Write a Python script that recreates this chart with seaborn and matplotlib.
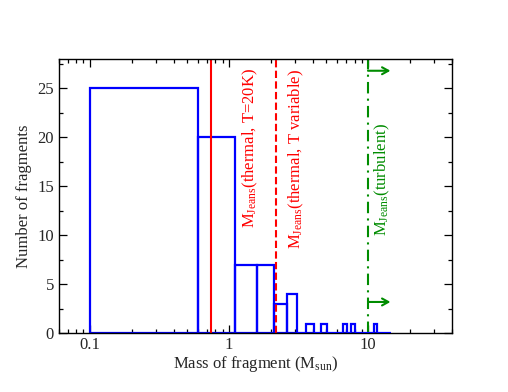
import numpy as np
import pandas as pd
import matplotlib
matplotlib.use("Agg")
import matplotlib.pyplot as plt
from matplotlib.ticker import MultipleLocator, LogLocator, FixedFormatter, FixedLocator
import seaborn as sns

# ---- data ----
bin_edges = [0.1, 0.6, 1.1, 1.6, 2.1, 2.6, 3.1, 3.6, 4.1, 4.6, 5.1, 5.6, 6.1, 6.6,
             7.1, 7.6, 8.1, 8.6, 9.1, 9.6, 10.1, 10.6, 11.1, 11.6, 12.1, 12.6,
             13.1, 13.6, 14.1, 14.6]
counts = [25, 20, 7, 7, 3, 4, 0, 1, 0, 1, 0, 0, 0, 1, 0, 1, 0, 0, 0, 0, 0, 0,
          1, 0, 0, 0, 0, 0, 0]
mjeans_thermal_20K = 0.74
mjeans_thermal_Tvar = 2.18
mjeans_turbulent = 10.0
arrow_end = 14.5
arrow_levels = [26.8, 3.2]

labels = {
    "t20": "M$_{\\mathrm{Jeans}}$(thermal, T=20K)",
    "tvar": "M$_{\\mathrm{Jeans}}$(thermal, T variable)",
    "turb": "M$_{\\mathrm{Jeans}}$(turbulent)",
}
xlabel = "Mass of fragment (M$_{\\mathrm{sun}}$)"
ylabel = "Number of fragments"

centers = [(a + b) / 2 for a, b in zip(bin_edges[:-1], bin_edges[1:])]
df = pd.DataFrame({"mass": centers, "n": counts})

# ---- style ----
sns.set_style("ticks")
plt.rcParams["font.family"] = ["Liberation Serif", "DejaVu Serif"]
plt.rcParams["mathtext.fontset"] = "custom"
plt.rcParams["mathtext.rm"] = "Liberation Serif"
plt.rcParams["mathtext.it"] = "Liberation Serif:italic"
plt.rcParams["mathtext.bf"] = "Liberation Serif:bold"

BLUE = "#0000ff"
RED = "#ff0000"
GREEN = "#008c00"

fig = plt.figure(figsize=(5.08, 3.92), dpi=100)
ax = fig.add_axes([0.1161, 0.1497, 0.8892 - 0.1161, 0.8495 - 0.1497])

sns.histplot(data=df, x="mass", weights="n", bins=bin_edges, fill=False,
             element="bars", color=BLUE, linewidth=1.6, ax=ax)
for p in ax.patches:
    if p.get_height() == 0:
        p.set_zorder(3)

ax.set_xscale("log")
ax.set_xlim(0.06, 40)
ax.set_ylim(0, 28)

# Jeans masses
ax.axvline(mjeans_thermal_20K, color=RED, lw=1.5)
ax.axvline(mjeans_thermal_Tvar, color=RED, lw=1.5, linestyle=(0, (3.5, 1.6)))
ax.axvline(mjeans_turbulent, color=GREEN, lw=1.5, linestyle=(0, (5.5, 2.5, 1, 2.5)))
for yl in arrow_levels:
    ax.annotate("", xy=(arrow_end, yl), xytext=(mjeans_turbulent, yl),
                arrowprops=dict(arrowstyle="->,head_length=0.45,head_width=0.25",
                                color=GREEN, lw=1.5, shrinkA=0, shrinkB=0))

ax.text(1.42, 18.9, labels["t20"], rotation=90, color=RED, fontsize=12,
        ha="center", va="center")
ax.text(3.06, 17.8, labels["tvar"], rotation=90, color=RED, fontsize=12,
        ha="center", va="center")
ax.text(12.6, 15.65, labels["turb"], rotation=90, color=GREEN, fontsize=12,
        ha="center", va="center")

# axes & ticks
ax.set_xlabel(xlabel, fontsize=12, labelpad=1)
ax.set_ylabel(ylabel, fontsize=12, labelpad=4)
ax.xaxis.set_major_locator(FixedLocator([0.1, 1, 10]))
ax.xaxis.set_major_formatter(FixedFormatter(["0.1", "1", "10"]))
ax.xaxis.set_minor_locator(LogLocator(base=10, subs=np.arange(2, 10)))
ax.yaxis.set_major_locator(MultipleLocator(5))
ax.yaxis.set_minor_locator(MultipleLocator(2.5))
ax.tick_params(which="both", direction="in", top=True, right=True,
               labelsize=12, color="black", width=0.9)
ax.tick_params(which="major", length=5.5)
ax.tick_params(axis="x", which="major", pad=2.5)
ax.tick_params(axis="y", which="major", pad=3.5)
ax.tick_params(which="minor", length=3)
for s in ax.spines.values():
    s.set_visible(True)
    s.set_color("black")
    s.set_linewidth(1.0)

fig.savefig("out.png", dpi=100)
